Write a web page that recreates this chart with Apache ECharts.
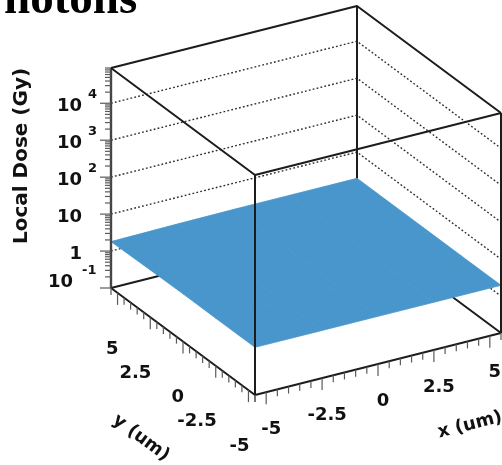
<!DOCTYPE html>
<html>
<head>
<meta charset="utf-8">
<script src="https://cdn.jsdelivr.net/npm/echarts@6/dist/echarts.min.js"></script>
<style>
  html, body { margin: 0; padding: 0; background: #ffffff; }
  #chart { width: 502px; height: 465px; }
</style>
</head>
<body>
<div id="chart"></div>
<script>
// ---- data -------------------------------------------------------------
const xRange = [-5.5, 5.5];          // um
const yRange = [-5.5, 5.5];          // um
const zRange = [0.1, 9e4];           // Gy, log scale
const xNodes = [-5.5, -2.5, 0, 2.5, 5.5];
const yNodes = [-5.5, -2.5, 0, 2.5, 5.5];
// local dose (Gy); rows follow yNodes, columns follow xNodes
const doseGy = [
  [1.95, 1.95, 1.95, 1.95, 1.95],
  [1.95, 1.95, 1.95, 1.95, 1.95],
  [1.95, 1.95, 1.95, 1.95, 1.95],
  [1.9, 1.95, 1.95, 1.95, 1.95],
  [1.8, 1.9, 1.95, 1.95, 1.95]
];
const xTickValues = [-5, -2.5, 0, 2.5, 5];
const xTickLabels = ['-5', '-2.5', '0', '2.5', '5'];
const yTickValues = [5, 2.5, 0, -2.5, -5];
const yTickLabels = ['5', '2.5', '0', '-2.5', '-5'];
const zTickValues = [0.1, 1, 10, 100, 1000, 10000];
const zTickBase = ['10', '1', '10', '10', '10', '10'];
const zTickExp = ['-1', '', '', '2', '3', '4'];
const titleText = 'hotons';
const zTitle = 'Local Dose (Gy)';
const xTitle = 'x (um)';
const yTitle = 'y (um)';

// ---- style ------------------------------------------------------------
const SURFACE = '#4896cc';
const EDGE = '#1c1c1c';
const TICK = '#5a5a5a';
const LABEL_FONT = 'DejaVu Sans';
const RISE_ALONG_X = -62 / 246;   // floor edge slope for the x direction
const RISE_ALONG_Y = 107 / 144;   // floor edge slope for the y direction

const chart = echarts.init(document.getElementById('chart'), null, { renderer: 'canvas' });

// hidden scales: dose (log) on the left corner, x and y along the two front floor edges
chart.setOption({
  animation: false,
  grid: [
    { left: 111, top: 68, width: 390, height: 220 },
    { left: 255, top: 395, width: 246, height: 20 },
    { left: 111, top: 288, width: 144, height: 20 }
  ],
  xAxis: [
    { gridIndex: 0, type: 'value', show: false, min: 0, max: 1 },
    { gridIndex: 1, type: 'value', show: false, min: xRange[0], max: xRange[1] },
    { gridIndex: 2, type: 'value', show: false, min: yRange[0], max: yRange[1], inverse: true }
  ],
  yAxis: [
    { gridIndex: 0, type: 'log', logBase: 10, show: false, min: zRange[0], max: zRange[1] },
    { gridIndex: 1, type: 'value', show: false, min: 0, max: 1 },
    { gridIndex: 2, type: 'value', show: false, min: 0, max: 1 }
  ]
});

const toX = v => chart.convertToPixel({ xAxisIndex: 1 }, v);
const toY = v => chart.convertToPixel({ xAxisIndex: 2 }, v);
const toZ = v => chart.convertToPixel({ yAxisIndex: 0 }, v);
const origin = chart.convertToPixel({ gridIndex: 1 }, [xRange[0], 1]);
const x0 = toX(xRange[0]), y0 = toY(yRange[0]), z0 = toZ(zRange[0]);

// oblique projection of (x, y, dose) onto the page
function project(x, y, z) {
  const dx = toX(x) - x0;
  const dy = toY(y) - y0;
  const dz = toZ(z) - z0;
  return [origin[0] + dx + dy, origin[1] + dx * RISE_ALONG_X + dy * RISE_ALONG_Y + dz];
}

const [xa, xb] = xRange, [ya, yb] = yRange, [za, zb] = zRange;

function line(points, width, color, dash) {
  return {
    type: 'polyline',
    shape: { points: points },
    style: { stroke: color, lineWidth: width, fill: null, lineDash: dash || null, lineJoin: 'round' }
  };
}
function text(x, y, str, size, align, vAlign, extra) {
  return Object.assign({
    type: 'text', x: x, y: y,
    style: {
      text: str, fill: '#111', align: align, verticalAlign: vAlign,
      fontFamily: LABEL_FONT, fontWeight: 'bold', fontSize: size
    }
  }, extra || {});
}

// surface cells
const cells = [];
for (let j = 0; j < yNodes.length - 1; j++) {
  for (let i = 0; i < xNodes.length - 1; i++) cells.push([i, j]);
}

// minor dose ticks (2..9 within each decade)
const zMinorTicks = [];
for (let e = -1; e <= 4; e++) {
  for (let k = 2; k <= 9; k++) {
    const v = k * Math.pow(10, e);
    if (v <= zb) zMinorTicks.push(v);
  }
}
// x/y ticks every 0.5 um
const floorTicks = [];
for (let t = -55; t <= 55; t += 5) floorTicks.push(t / 10);

chart.setOption({
  series: [
    { // dotted dose grid on the two rear walls
      type: 'custom', coordinateSystem: 'none', silent: true, z: 1,
      data: zTickValues.slice(1),
      renderItem: (params, api) => {
        const z = api.value(0);
        return line([project(xa, yb, z), project(xb, yb, z), project(xb, ya, z)], 1.4, '#2e2e2e', [1.8, 2.2]);
      }
    },
    { // rear edges of the frame
      type: 'custom', coordinateSystem: 'none', silent: true, z: 2,
      data: [0],
      renderItem: () => ({
        type: 'group',
        children: [
          line([project(xa, yb, zb), project(xb, yb, zb), project(xb, ya, zb)], 2, EDGE),
          line([project(xa, yb, za), project(xb, yb, za), project(xb, ya, za)], 2, EDGE),
          line([project(xb, yb, za), project(xb, yb, zb)], 2, EDGE)
        ]
      })
    },
    { // dose surface
      type: 'custom', coordinateSystem: 'none', silent: true, z: 3,
      data: cells,
      renderItem: (params, api) => {
        const i = api.value(0), j = api.value(1);
        const pts = [
          project(xNodes[i], yNodes[j], doseGy[j][i]),
          project(xNodes[i + 1], yNodes[j], doseGy[j][i + 1]),
          project(xNodes[i + 1], yNodes[j + 1], doseGy[j + 1][i + 1]),
          project(xNodes[i], yNodes[j + 1], doseGy[j + 1][i])
        ];
        return {
          type: 'polygon', shape: { points: pts },
          style: { fill: SURFACE, stroke: SURFACE, lineWidth: 0.8 }
        };
      }
    },
    { // front edges of the frame
      type: 'custom', coordinateSystem: 'none', silent: true, z: 4,
      data: [0],
      renderItem: () => ({
        type: 'group',
        children: [
          line([project(xa, yb, za), project(xa, yb, zb)], 2.4, '#444'),
          line([project(xa, ya, za), project(xa, ya, zb)], 2, EDGE),
          line([project(xb, ya, za), project(xb, ya, zb)], 2, EDGE),
          line([project(xa, yb, zb), project(xa, ya, zb), project(xb, ya, zb)], 2, EDGE),
          line([project(xa, yb, za), project(xa, ya, za), project(xb, ya, za)], 2, EDGE)
        ]
      })
    },
    { // dose axis minor ticks
      type: 'custom', coordinateSystem: 'none', silent: true, z: 5,
      data: zMinorTicks,
      renderItem: (params, api) => {
        const p = project(xa, yb, api.value(0));
        return line([[p[0] - 6, p[1]], p], 1.2, TICK);
      }
    },
    { // dose axis major ticks and labels
      type: 'custom', coordinateSystem: 'none', silent: true, z: 5,
      data: zTickValues.map((v, k) => [v, k]),
      renderItem: (params, api) => {
        const k = api.value(1);
        const p = project(xa, yb, api.value(0));
        const low = k === 0;
        const children = [line([[p[0] - 11, p[1]], p], 1.2, TICK)];
        children.push(text(low ? 73 : 82, p[1] + (low ? -6 : 3), zTickBase[k], 18, 'right', 'middle'));
        if (zTickExp[k]) {
          children.push(text(low ? 82 : 88, p[1] + (low ? -17 : -9), zTickExp[k], 13, 'left', 'middle'));
        }
        return { type: 'group', children: children };
      }
    },
    { // x and y floor ticks
      type: 'custom', coordinateSystem: 'none', silent: true, z: 5,
      data: floorTicks,
      renderItem: (params, api) => {
        const t = api.value(0);
        const major = t % 2.5 === 0;
        const len = major ? 12 : 7;
        const px = project(t, ya, za);
        const py = project(xa, t, za);
        return {
          type: 'group',
          children: [
            line([px, [px[0], px[1] + len]], 1.2, TICK),
            line([py, [py[0], py[1] + len]], 1.2, TICK)
          ]
        };
      }
    },
    { // x labels
      type: 'custom', coordinateSystem: 'none', silent: true, z: 6,
      data: xTickValues.map((v, k) => [v, k]),
      renderItem: (params, api) => {
        const p = project(api.value(0), ya, za);
        return text(p[0] + 5, p[1] + 37, xTickLabels[api.value(1)], 18, 'center', 'middle');
      }
    },
    { // y labels
      type: 'custom', coordinateSystem: 'none', silent: true, z: 6,
      data: yTickValues.map((v, k) => [v, k]),
      renderItem: (params, api) => {
        const p = project(xa, api.value(0), za);
        return text(p[0] + 1, p[1] + 56, yTickLabels[api.value(1)], 18, 'right', 'middle');
      }
    }
  ],
  graphic: [
    {
      type: 'text', left: 4, top: -23,
      style: { text: titleText, fontFamily: 'Liberation Serif', fontWeight: 'bold', fontSize: 47, fill: '#000' }
    },
    {
      type: 'text', x: 22, y: 156, rotation: Math.PI / 2,
      style: { text: zTitle, fontFamily: LABEL_FONT, fontWeight: 'bold', fontSize: 20, fill: '#111', align: 'center', verticalAlign: 'middle' }
    },
    {
      type: 'text', x: 470, y: 425, rotation: 0.245,
      style: { text: xTitle, fontFamily: LABEL_FONT, fontWeight: 'bold', fontSize: 18, fill: '#111', align: 'center', verticalAlign: 'middle' }
    },
    {
      type: 'text', x: 141, y: 438, rotation: -0.64,
      style: { text: yTitle, fontFamily: LABEL_FONT, fontWeight: 'bold', fontSize: 18, fill: '#111', align: 'center', verticalAlign: 'middle' }
    }
  ]
});
</script>
</body>
</html>
